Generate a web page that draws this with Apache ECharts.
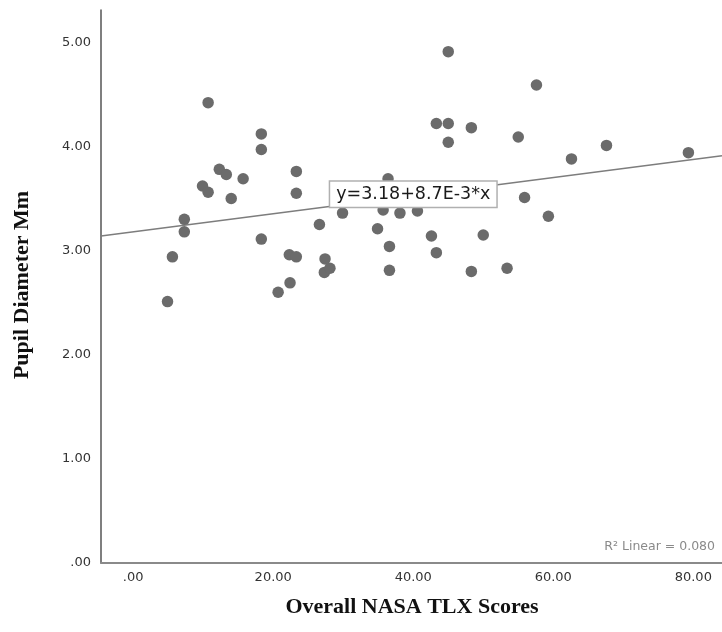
<!DOCTYPE html>
<html>
<head>
<meta charset="utf-8">
<script src="https://cdn.jsdelivr.net/npm/echarts@6/dist/echarts.min.js"></script>
<style>html,body{margin:0;padding:0;background:#fff;}#c{width:722px;height:632px;}</style>
</head>
<body>
<div id="c"></div>
<script>
// Overall NASA TLX Scores (x) vs Pupil Diameter Mm (y)
const tlxScores = [4.9, 5.6, 7.3, 7.3, 9.9, 10.7, 10.7, 12.3, 13.3, 14.0, 15.7, 18.3, 18.3, 18.3, 20.7, 22.4, 22.3, 23.3, 23.3, 23.3,
  26.6, 27.3, 27.4, 28.1, 29.9, 34.9, 35.7, 36.4, 36.6, 36.6, 38.1, 40.6, 42.6, 43.3, 43.3, 45.0, 45.0, 45.0, 48.3, 48.3,
  50.0, 53.4, 55.0, 55.9, 57.6, 59.3, 62.6, 67.6, 79.3];
const pupilDiameter = [2.51, 2.94, 3.30, 3.18, 3.62, 3.56, 4.42, 3.78, 3.73, 3.50, 3.69, 4.12, 3.97, 3.11, 2.60, 2.69, 2.96, 2.94, 3.76, 3.55,
  3.25, 2.79, 2.92, 2.83, 3.36, 3.21, 3.39, 3.69, 3.04, 2.81, 3.36, 3.38, 3.14, 2.98, 4.22, 4.22, 4.04, 4.91, 4.18, 2.80,
  3.15, 2.83, 4.09, 3.51, 4.59, 3.33, 3.88, 4.01, 3.94];
const xTickValues = [0, 20, 40, 60, 80];
const yTickValues = [0, 1, 2, 3, 4, 5];
const fitIntercept = [3.18];
const fitSlope = [0.0087];
const xRange = [-4.6, 84.1];
const yRange = [0, 5.31];
const equationText = 'y=3.18+8.7E-3*x';
const rSquaredText = 'R² Linear = 0.080';
const equationAnchor = [40, 3.54];

const points = tlxScores.map((x, i) => [x, pupilDiameter[i]]);
const fitLine = xRange.map(x => [x, fitIntercept[0] + fitSlope[0] * x]);
const fmt = v => (v === 0 ? '.00' : v.toFixed(2));

const chart = echarts.init(document.getElementById('c'), null, {renderer: 'canvas'});
chart.setOption({
  animation: false,
  backgroundColor: '#fff',
  grid: {left: 101, right: 0, top: 10, bottom: 69},
  xAxis: {
    type: 'value', min: xRange[0], max: xRange[1],
    axisLine: {show: true, onZero: false, lineStyle: {color: '#8a8a8a', width: 2}},
    axisTick: {show: false},
    splitLine: {show: false},
    axisLabel: {customValues: xTickValues, formatter: fmt, margin: 8,
      fontFamily: 'DejaVu Sans', fontSize: 13, color: '#333'}
  },
  yAxis: {
    type: 'value', min: yRange[0], max: yRange[1],
    axisLine: {show: true, onZero: false, lineStyle: {color: '#555', width: 1.5}},
    axisTick: {show: false},
    splitLine: {show: false},
    axisLabel: {customValues: yTickValues, formatter: fmt, margin: 10,
      fontFamily: 'DejaVu Sans', fontSize: 13, color: '#333'}
  },
  series: [
    {
      type: 'line', data: fitLine, symbol: 'none', silent: true,
      lineStyle: {color: '#7d7d7d', width: 1.5}, z: 2,
      markPoint: {
        symbol: 'rect', symbolSize: 1, itemStyle: {color: 'rgba(0,0,0,0)'},
        data: [{coord: equationAnchor}],
        label: {show: true, position: 'inside', formatter: equationText,
          fontFamily: 'DejaVu Sans', fontSize: 17.5, color: '#1a1a1a',
          backgroundColor: '#fff', borderColor: '#b0b0b0', borderWidth: 1.5,
          padding: [4, 6, 3, 6]},
        z: 10
      }
    },
    {
      type: 'scatter', data: points, symbol: 'circle', symbolSize: 11.5,
      itemStyle: {color: '#6b6b6b', opacity: 1}, z: 3
    }
  ],
  graphic: [
    {type: 'text', right: 7, top: 540,
      style: {text: rSquaredText, fontFamily: 'DejaVu Sans', fontSize: 12.5, fill: '#8a8a8a'}},
    {type: 'text', x: 412, y: 607,
      style: {text: 'Overall NASA TLX Scores', fontFamily: 'Liberation Serif', fontWeight: 'bold',
        fontSize: 22, fill: '#111', textAlign: 'center', textVerticalAlign: 'middle'}},
    {type: 'text', x: 22, y: 285, rotation: Math.PI / 2,
      style: {text: 'Pupil Diameter Mm', fontFamily: 'Liberation Serif', fontWeight: 'bold',
        fontSize: 22, fill: '#111', textAlign: 'center', textVerticalAlign: 'middle'}}
  ]
});
</script>
</body>
</html>
